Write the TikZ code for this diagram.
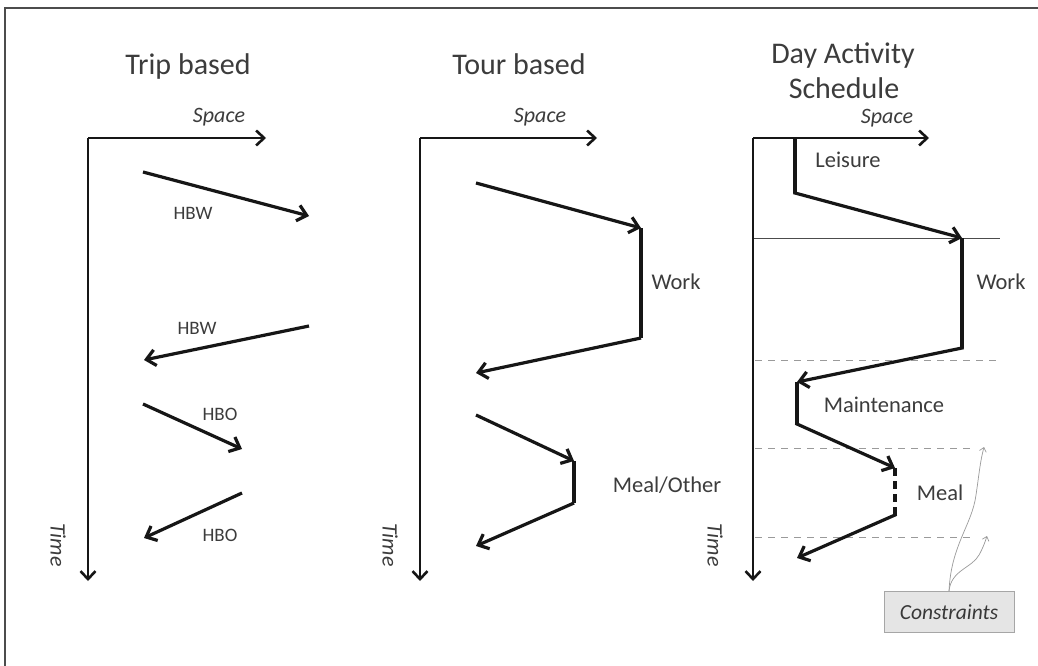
\documentclass[tikz,border=0pt]{standalone}
\usepackage{fontspec}
\setmainfont{Carlito}
\usetikzlibrary{arrows.meta}
\definecolor{ink}{HTML}{161616}
\definecolor{txt}{HTML}{3c3c3c}
\definecolor{guide}{HTML}{9a9a9a}
\begin{document}
\begin{tikzpicture}[x=1pt,y=-1pt,
  axis/.style={line width=2.6pt, draw=ink, line cap=butt,
    -{Straight Barb[length=8pt,width=15pt]}},
  trip/.style={line width=3.2pt, draw=ink,
    -{Straight Barb[length=9pt,width=16pt]}},
  stay/.style={line width=3.6pt, draw=ink},
  title/.style={font=\fontsize{30}{33}\selectfont, text=txt, anchor=base, inner sep=0pt},
  lab/.style={font=\fontsize{22.5}{25}\selectfont, text=txt},
  small/.style={font=\fontsize{19}{21}\selectfont, text=txt},
  axlab/.style={font=\fontsize{22}{24}\selectfont\itshape, text=txt, inner sep=0pt},
  guideline/.style={draw=guide, line width=0.8pt, dashed, dash pattern=on 7pt off 6pt},
  hint/.style={draw=guide, line width=0.7pt, -{Straight Barb[length=4pt,width=7pt]}}
]
\useasboundingbox (0,0) rectangle (1038,666);
\fill[white] (0,0) rectangle (1038,666);
% frame
\draw[black!70, line width=1.6pt] (5,666) -- (5,8) -- (1038,8);

% ---------------- Trip based ----------------
\node[title] (t1) at (188,75) {Trip based};
\coordinate (o1) at (88,138);
\coordinate (s1) at (266,138);
\coordinate (e1) at (88,581);
\draw[axis] (o1) -- (s1);
\draw[axis] (o1) -- (e1);
\node[axlab, anchor=base] (sp1) at (219,123) {Space};
\node[axlab, rotate=-90] (tm1) at (58,545) {Time};
\coordinate (a1) at (143,172); \coordinate (b1) at (309,216);
\coordinate (a2) at (309,326); \coordinate (b2) at (144,360);
\coordinate (a3) at (143,404); \coordinate (b3) at (242,449);
\coordinate (a4) at (242,493); \coordinate (b4) at (144,538);
\draw[trip] (a1) -- (b1);
\draw[trip] (a2) -- (b2);
\draw[trip] (a3) -- (b3);
\draw[trip] (a4) -- (b4);
\node[small] (l1) at (193,213) {HBW};
\node[small] (l2) at (197,328) {HBW};
\node[small] (l3) at (220,414) {HBO};
\node[small] (l4) at (220,535) {HBO};

% ---------------- Tour based ----------------
\node[title] (t2) at (519,75) {Tour based};
\coordinate (o2) at (420,138);
\coordinate (s2) at (597,138);
\coordinate (e2) at (420,581);
\draw[axis] (o2) -- (s2);
\draw[axis] (o2) -- (e2);
\node[axlab, anchor=base] (sp2) at (540,123) {Space};
\node[axlab, rotate=-90] (tm2) at (390,545) {Time};
\coordinate (c1) at (476,183); \coordinate (w1) at (641,228);
\coordinate (w2) at (641,338); \coordinate (c2) at (476,373);
\coordinate (c3) at (476,415); \coordinate (m1) at (574,461);
\coordinate (m2) at (574,503); \coordinate (c4) at (476,546);
\draw[trip] (c1) -- (w1);
\draw[stay] (w1) -- (w2);
\draw[trip] (w2) -- (c2);
\draw[trip] (c3) -- (m1);
\draw[stay] (m1) -- (m2);
\draw[trip] (m2) -- (c4);
\node[lab] (wk2) at (676,282) {Work};
\node[lab] (ml2) at (667,485) {Meal/Other};

% ---------------- Day Activity Schedule ----------------
\node[title] (t3a) at (843,64) {Day Activity};
\node[title] (t3b) at (844,99) {Schedule};
\coordinate (o3) at (753,138);
\coordinate (s3) at (929,138);
\coordinate (e3) at (753,581);
% time slot boundaries
\coordinate (g1a) at (753,238); \coordinate (g1b) at (1000,238);
\coordinate (g2a) at (755,360); \coordinate (g2b) at (997,360);
\coordinate (g3a) at (755,448); \coordinate (g3b) at (975,448);
\coordinate (g4a) at (755,537); \coordinate (g4b) at (975,537);
\draw[black!70, line width=0.9pt] (g1a) -- (g1b);
\draw[guideline] (g2a) -- (g2b);
\draw[guideline] (g3a) -- (g3b);
\draw[guideline] (g4a) -- (g4b);
\draw[axis] (o3) -- (s3);
\draw[axis] (o3) -- (e3);
\node[axlab, anchor=base] (sp3) at (887,124) {Space};
\node[axlab, rotate=-90] (tm3) at (715,545) {Time};
\coordinate (h0) at (795,138); \coordinate (h1) at (795,193);
\coordinate (w3) at (962,238); \coordinate (w4) at (962,348);
\coordinate (n1) at (797,382); \coordinate (n2) at (797,424);
\coordinate (q1) at (895,468); \coordinate (q2) at (895,515);
\coordinate (h2) at (797,558);
\draw[stay] (h0) -- (h1);
\draw[trip, shorten <=-1.6pt] (h1) -- (w3);
\draw[stay] (w3) -- (w4);
\draw[trip, shorten <=-1.6pt] (w4) -- (n1);
\draw[stay] (n1) -- (n2);
\draw[trip, shorten <=-1.6pt] (n2) -- (q1);
\draw[stay, dash pattern=on 8pt off 5pt] (q1) -- (q2);
\draw[trip, shorten <=-1.6pt] (q2) -- (h2);
\node[lab] (ls3) at (848,160) {Leisure};
\node[lab] (wk3) at (1001,282) {Work};
\node[lab] (mt3) at (884,405) {Maintenance};
\node[lab] (ml3) at (940,493) {Meal};

% constraints box and its pointers
\node[draw=black!35, fill=black!10, line width=0.8pt, minimum width=130pt,
      minimum height=41pt, inner sep=0pt,
      font=\fontsize{21.5}{23}\selectfont\itshape, text=black!78]
      (cons) at (949,612) {Constraints};
\coordinate (k1) at (984,447);
\coordinate (k2) at (987,536);
\draw[hint] (cons.north) .. controls (951,545) and (972,525) .. (976,495)
   .. controls (979,475) and (980,462) .. (k1);
\draw[hint] (cons.north) .. controls (951,570) and (972,568) .. (979,555)
   .. controls (983,548) and (985,542) .. (k2);
\end{tikzpicture}
\end{document}
